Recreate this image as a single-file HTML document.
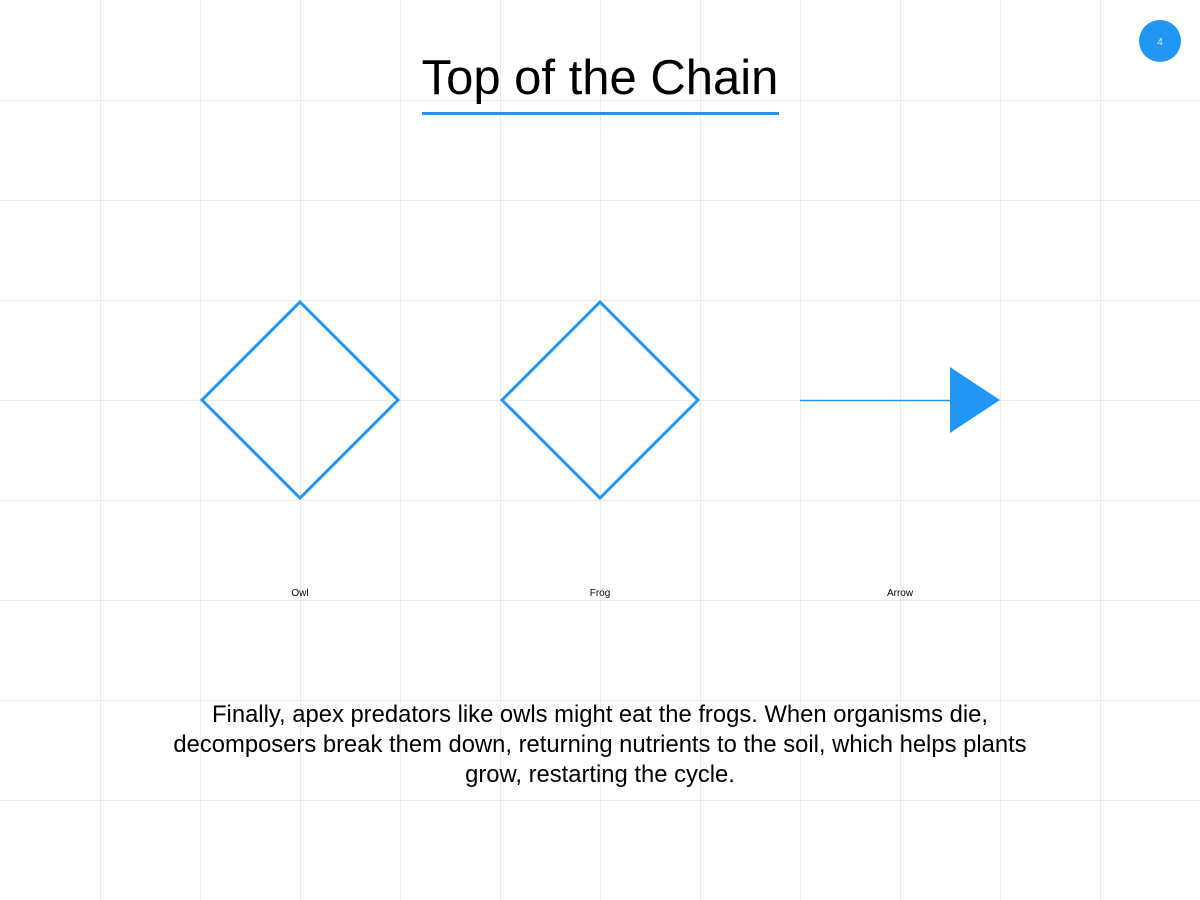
<!DOCTYPE html>
<html><head><style>
body{margin:0;width:1200px;height:900px;overflow:hidden;background:#fff;font-family:"Liberation Sans",sans-serif;}
</style></head><body>
<svg width="1200" height="900" xmlns="http://www.w3.org/2000/svg" style="position:absolute;left:0;top:0">
<g stroke="#ececec" stroke-width="1">
<line x1="100.5" y1="0" x2="100.5" y2="900"/><line x1="200.5" y1="0" x2="200.5" y2="900"/><line x1="300.5" y1="0" x2="300.5" y2="900"/><line x1="400.5" y1="0" x2="400.5" y2="900"/><line x1="500.5" y1="0" x2="500.5" y2="900"/><line x1="600.5" y1="0" x2="600.5" y2="900"/><line x1="700.5" y1="0" x2="700.5" y2="900"/><line x1="800.5" y1="0" x2="800.5" y2="900"/><line x1="900.5" y1="0" x2="900.5" y2="900"/><line x1="1000.5" y1="0" x2="1000.5" y2="900"/><line x1="1100.5" y1="0" x2="1100.5" y2="900"/>
<line x1="0" y1="100.5" x2="1200" y2="100.5"/><line x1="0" y1="200.5" x2="1200" y2="200.5"/><line x1="0" y1="300.5" x2="1200" y2="300.5"/><line x1="0" y1="400.5" x2="1200" y2="400.5"/><line x1="0" y1="500.5" x2="1200" y2="500.5"/><line x1="0" y1="600.5" x2="1200" y2="600.5"/><line x1="0" y1="700.5" x2="1200" y2="700.5"/><line x1="0" y1="800.5" x2="1200" y2="800.5"/>
</g>
<circle cx="1160" cy="41" r="21" fill="#2196F3"/>
<text x="1160" y="45" font-size="10" fill="#dfefff" text-anchor="middle" font-family="Liberation Sans">4</text>
<text x="600" y="94" font-size="49" text-anchor="middle" font-family="Liberation Sans" fill="#000">Top of the Chain</text>
<rect x="422" y="112" width="357" height="3" fill="#2196F3"/>
<polygon points="300,302 398,400 300,498 202,400" fill="none" stroke="#2196F3" stroke-width="3"/>
<polygon points="600,302 698,400 600,498 502,400" fill="none" stroke="#2196F3" stroke-width="3"/>
<line x1="800" y1="400.5" x2="952" y2="400.5" stroke="#2196F3" stroke-width="1.5"/>
<polygon points="950,367 1000,400 950,433" fill="#2196F3"/>
<g font-size="10" text-anchor="middle" font-family="Liberation Sans" fill="#000">
<text x="300" y="596">Owl</text><text x="600" y="596">Frog</text><text x="900" y="596">Arrow</text>
</g>
<g font-size="23.8" text-anchor="middle" font-family="Liberation Sans" fill="#000">
<text x="600" y="722">Finally, apex predators like owls might eat the frogs. When organisms die,</text>
<text x="600" y="752">decomposers break them down, returning nutrients to the soil, which helps plants</text>
<text x="600" y="782">grow, restarting the cycle.</text>
</g>
</svg>
</body></html>
